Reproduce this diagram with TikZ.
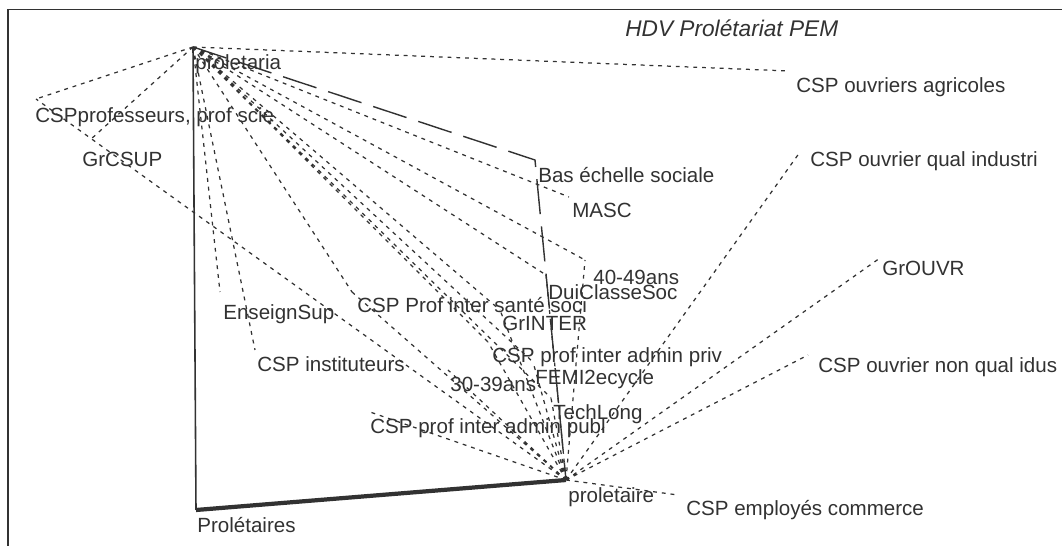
\documentclass[tikz,border=0pt]{standalone}
\usepackage{fontspec}
\setmainfont{Liberation Sans}
\definecolor{encre}{RGB}{50,50,50}

\begin{document}
\begin{tikzpicture}[x=0.02cm,y=-0.02cm,
  etiq/.style={anchor=west,inner sep=0pt,text height=8.4pt,text depth=0pt,
    text=encre,font=\fontsize{11.7}{14}\selectfont},
  titre/.style={etiq,text height=9.2pt,font=\fontsize{12.9}{15}\selectfont\itshape},
  lien/.style={draw=encre,line width=0.7pt,dash pattern=on 2.2pt off 2.8pt},
  longlien/.style={draw=encre,line width=0.8pt,dash pattern=on 20pt off 7pt},
  axe/.style={draw=encre,line width=0.9pt},
  axefort/.style={draw=encre,line width=2.4pt}]
	\fill[white] (0,0) rectangle (1062,546);
	\useasboundingbox (0,0) rectangle (1062,546);
	\draw[encre,line width=1pt] (8,546) -- (8,9.5) -- (1062,9.5);
	% points
	\coordinate (pA) at (193,47);
	\coordinate (pB) at (566,480);
	\coordinate (pC) at (196,510);
	\coordinate (pAgri) at (789,71);
	\coordinate (pProf) at (36,99);
	\coordinate (pCsup) at (90,140);
	\coordinate (pBas) at (535,160);
	\coordinate (pQual) at (800,152);
	\coordinate (pMasc) at (569,197);
	\coordinate (p4049) at (585,260);
	\coordinate (pDui) at (546,275);
	\coordinate (pOuvr) at (880,258);
	\coordinate (pSante) at (352,292);
	\coordinate (pEns) at (220,292);
	\coordinate (pInter) at (500,310);
	\coordinate (pPriv) at (488,342);
	\coordinate (pInst) at (255,350);
	\coordinate (pFemi) at (533,362);
	\coordinate (p3039) at (448,370);
	\coordinate (pNonq) at (808,355);
	\coordinate (pTech) at (551,398);
	\coordinate (pPubl) at (370,412);
	\coordinate (pComm) at (678,495);
	% liens
	\draw[lien] (pA) -- (pAgri) (pA) -- (pProf) (pA) -- (pCsup) (pA) -- (pMasc)
		(pA) -- (p4049) (pA) -- (pDui) (pA) -- (pInter) (pA) -- (pSante)
		(pA) -- (pEns) (pA) -- (pInst) (pA) -- (pPriv) (pA) -- (pFemi) (pA) -- (pTech);
	\draw[lien] (pB) -- (pProf) (pB) -- (pQual) (pB) -- (pOuvr) (pB) -- (pNonq)
		(pB) -- (pComm) (pB) -- (pPubl) (pB) -- (p3039) (pB) -- (pPriv) (pB) -- (pInter)
		(pB) -- (pFemi) (pB) -- (pTech) (pB) -- (p4049) (pB) -- (pDui) (pB) -- (pSante);
	\draw[longlien] (pA) -- (pBas) -- (pB);
	\draw[axe] (pA) -- (pC);
	\draw[axefort] (pC) -- (pB);
	% etiquettes
	\node[titre] (titre) at (625,28) {HDV Prolétariat PEM};
	\node[etiq] (A) at (195,62) {proletaria};
	\node[etiq] (agri) at (796,85) {CSP ouvriers agricoles};
	\node[etiq] (prof) at (35,115) {CSPprofesseurs, prof scie};
	\node[etiq] (csup) at (82,159) {GrCSUP};
	\node[etiq] (bas) at (538,175) {Bas échelle sociale};
	\node[etiq] (qual) at (810,159) {CSP ouvrier qual industri};
	\node[etiq] (masc) at (572,210) {MASC};
	\node[etiq] (a4049) at (593,277) {40-49ans};
	\node[etiq] (dui) at (548,292) {DuiClasseSoc};
	\node[etiq] (ouvr) at (882,268) {GrOUVR};
	\node[etiq] (sante) at (357,305) {CSP Prof inter santé soci};
	\node[etiq] (ens) at (223,312) {EnseignSup};
	\node[etiq] (inter) at (502,323) {GrINTER};
	\node[etiq] (priv) at (492,355) {CSP prof inter admin priv};
	\node[etiq] (inst) at (257,364) {CSP instituteurs};
	\node[etiq] (femi) at (535,377) {FEMI2ecycle};
	\node[etiq] (a3039) at (450,384) {30-39ans};
	\node[etiq] (nonq) at (818,365) {CSP ouvrier non qual idus};
	\node[etiq] (tech) at (553,412) {TechLong};
	\node[etiq] (publ) at (370,426) {CSP prof inter admin publ};
	\node[etiq] (B) at (568,495) {proletaire};
	\node[etiq] (comm) at (686,508) {CSP employés commerce};
	\node[etiq] (C) at (197,525) {Prolétaires};
\end{tikzpicture}
\end{document}
